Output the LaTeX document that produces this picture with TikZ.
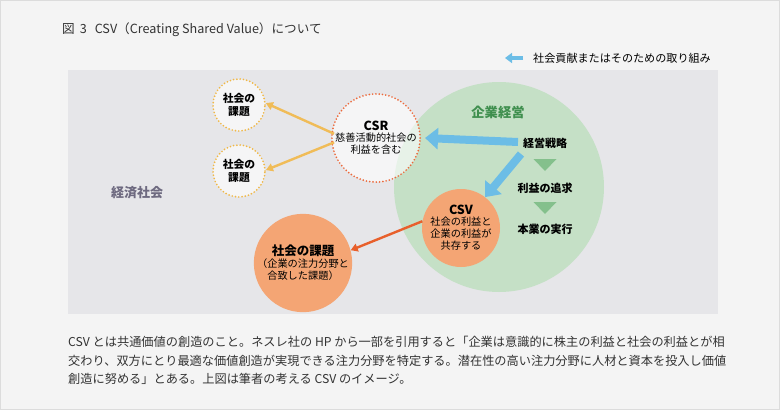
\documentclass[tikz,border=0pt]{standalone}
\usepackage{fontspec}
\setmainfont{Noto Sans CJK JP}
\usetikzlibrary{arrows.meta}
\definecolor{bgc}{HTML}{F4F4F4}
\definecolor{bordc}{HTML}{DCDCDC}
\definecolor{panelc}{HTML}{E6E6E9}
\definecolor{greenc}{HTML}{C5E0C6}
\definecolor{greent}{HTML}{3F8F4E}
\definecolor{trianc}{HTML}{84C08C}
\definecolor{bluec}{HTML}{6CBDE6}
\definecolor{orangec}{HTML}{F4A574}
\definecolor{orangea}{HTML}{E8602C}
\definecolor{redot}{HTML}{EC6A3C}
\definecolor{yelc}{HTML}{F0B848}
\definecolor{yela}{HTML}{F0BC58}
\definecolor{keizaic}{HTML}{6E6A80}
\definecolor{txtc}{HTML}{333333}
\tikzset{
  dotcircle/.style={circle, fill=white, fill opacity=0.6, text opacity=1, draw opacity=1,
     line width=1.9pt, dash pattern=on 0pt off 3.3pt, line cap=round, inner sep=0pt, align=center, text=black},
  lbl/.style={font=\fontsize{11}{13}\selectfont\bfseries, align=center, text=black, inner sep=0pt},
  bluearrow/.style={draw=bluec, line width=8pt, -{Triangle[width=21pt,length=13pt]}},
  yelarrow/.style={draw=yela, line width=2.4pt, -{Triangle[width=8pt,length=7pt]}},
  orarrow/.style={draw=orangea, line width=2.4pt, -{Triangle[width=8pt,length=7pt]}},
  tri/.style={fill=trianc},
  bodytxt/.style={anchor=west, inner sep=0pt, text=txtc, font=\fontsize{12.2}{18}\selectfont}
}
\begin{document}
\begin{tikzpicture}[x=1pt,y=-1pt]
\useasboundingbox (0,0) rectangle (780,410);
\fill[bgc] (0,0) rectangle (780,410);
\draw[bordc, line width=1pt] (0.5,0.5) rectangle (779.5,409.5);
\node[anchor=west, inner sep=0pt, text=txtc, font=\fontsize{12.6}{15}\selectfont] (title) at (62,30) {図\hspace{5pt}3\hspace{8pt}CSV（Creating Shared Value）について};
% legend
\coordinate (legs) at (523,58);
\node[anchor=west, inner sep=0pt, text=black, font=\fontsize{11.1}{13}\selectfont] (legt) at (533,58) {社会貢献またはそのための取り組み};
\coordinate (lege) at (505,58);
\draw[draw=bluec, line width=4pt, -{Triangle[width=10pt,length=7pt]}] (legs) -- (lege);
% panel
\fill[panelc] (68,70) rectangle (718,314);
\node[font=\fontsize{13}{15}\selectfont\bfseries, text=keizaic, inner sep=0pt] (keizai) at (137,193) {経済社会};
% green circle
\node[circle, fill=greenc, minimum size=210pt, inner sep=0pt] (keiei) at (499,187) {};
\node[font=\fontsize{13.3}{15}\selectfont\bfseries, text=greent, inner sep=0pt] (keieit) at (498,112) {企業経営};
\node[lbl] (senryaku) at (545,143) {経営戦略};
\fill[tri] (533.5,159) -- (556.5,159) -- (545,171) -- cycle;
\node[lbl] (rieki) at (545,188) {利益の追求};
\fill[tri] (533.5,202) -- (556.5,202) -- (545,214) -- cycle;
\node[lbl] (hongyo) at (545,229) {本業の実行};
% CSR circle
\node[dotcircle, draw=redot, minimum size=88pt] (csr) at (376,138)
  {{\fontsize{12.5}{15}\selectfont\bfseries CSR}\\[-1pt]{\fontsize{10.2}{13.5}\selectfont 慈善活動的社会の}\\{\fontsize{10.2}{13.5}\selectfont 利益を含む}};
% small circles
\node[dotcircle, draw=yelc, minimum size=52pt, font=\fontsize{10.8}{13.5}\selectfont\bfseries] (k1) at (239,105) {社会の\\課題};
\node[dotcircle, draw=yelc, minimum size=52pt, font=\fontsize{10.8}{13.5}\selectfont\bfseries] (k2) at (239,171) {社会の\\課題};
% CSV circle
\node[circle, fill=orangec, minimum size=78pt, inner sep=0pt, align=center, text=black] (csv) at (461,228)
  {{\fontsize{12.5}{15}\selectfont\bfseries CSV}\\[-1pt]{\fontsize{10.2}{12.5}\selectfont 社会の利益と}\\{\fontsize{10.2}{12.5}\selectfont 企業の利益が}\\{\fontsize{10.2}{12.5}\selectfont 共存する}};
% big orange
\node[circle, fill=orangec, minimum size=97pt, inner sep=0pt, align=center, text=black] (kadai) at (303,263)
  {{\fontsize{12.5}{14}\selectfont\bfseries 社会の課題}\\[0pt]{\fontsize{10.2}{12.5}\selectfont （企業の注力分野と}\\{\fontsize{10.2}{12.5}\selectfont 合致した課題）}};
% arrows
\coordinate (b1s) at (518,142);
\coordinate (b2s) at (521,154);
\draw[bluearrow] (b1s) -- ([xshift=4pt]csr.east);
\draw[bluearrow] (b2s) -- (csv.52);
\draw[yelarrow, shorten <=-3pt] (csr.173) -- (k1.4);
\draw[yelarrow, shorten <=-3pt] (csr.187) -- (k2.2);
\draw[orarrow] (csv.170) -- (kadai.15);
% body
\node[bodytxt] (l1) at (68,342) {CSV とは共通価値の創造のこと。ネスレ社の HP から一部を引用すると「企業は意識的に株主の利益と社会の利益とが相};
\node[bodytxt] (l2) at (68,361) {交わり、双方にとり最適な価値創造が実現できる注力分野を特定する。潜在性の高い注力分野に人材と資本を投入し価値};
\node[bodytxt] (l3) at (68,379) {創造に努める」とある。上図は筆者の考える CSV のイメージ。};
\end{tikzpicture}
\end{document}
